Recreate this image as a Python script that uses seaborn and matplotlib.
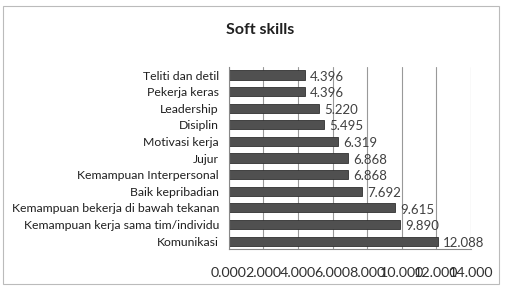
import numpy as np
import pandas as pd
import matplotlib
matplotlib.use("Agg")
import matplotlib.pyplot as plt
import seaborn as sns

skills = ["Teliti dan detil", "Pekerja keras", "Leadership", "Disiplin",
          "Motivasi kerja", "Jujur", "Kemampuan Interpersonal", "Baik kepribadian",
          "Kemampuan bekerja di bawah tekanan", "Kemampuan kerja sama tim/individu",
          "Komunikasi"]
scores = [4.396, 4.396, 5.220, 5.495, 6.319, 6.868, 6.868, 7.692, 9.615, 9.890, 12.088]
xticks = [0, 2, 4, 6, 8, 10, 12, 14]

df = pd.DataFrame({"skill": skills, "score": scores})

sns.set_style("white")
plt.rcParams['font.family'] = ['Lato', 'DejaVu Sans']

fig = plt.figure(figsize=(5.06, 2.9), dpi=100)
ax = fig.add_axes([0.452, 0.14, 0.479, 0.63])

sns.barplot(data=df, x="score", y="skill", color="#505050", width=0.55,
            edgecolor="#303030", linewidth=0.6, ax=ax)

for i, v in enumerate(scores):
    ax.text(v + 0.3, i + 0.1, f"{v:.3f}", va="center", ha="left",
            fontsize=9.5, color="#404040")

ax.set_xlim(0, 14)
ax.set_xticks(xticks)
ax.set_xticklabels([f"{t:.3f}" for t in xticks], fontsize=10.3, color="#303030")
ax.tick_params(axis="x", length=3, pad=10, color="#888888")
ax.tick_params(axis="y", length=3, color="#888888", labelsize=8.8, labelcolor="#202020", pad=4)
ax.grid(axis="x", color="#999999", linewidth=0.8)
ax.set_axisbelow(True)
for s in ["top", "right"]:
    ax.spines[s].set_visible(False)
ax.spines["left"].set_color("#888888")
ax.spines["bottom"].set_color("#888888")
ax.set_xlabel("")
ax.set_ylabel("")

fig.text(0.514, 0.895, "Soft skills", ha="center", va="center",
         fontsize=11.5, fontweight="bold", color="#202020")

fig.patches.append(plt.Rectangle((0.006, 0.02), 0.98, 0.96, transform=fig.transFigure,
                                 fill=False, edgecolor="#bbbbbb", linewidth=0.8))

fig.savefig("out.png", dpi=100)
